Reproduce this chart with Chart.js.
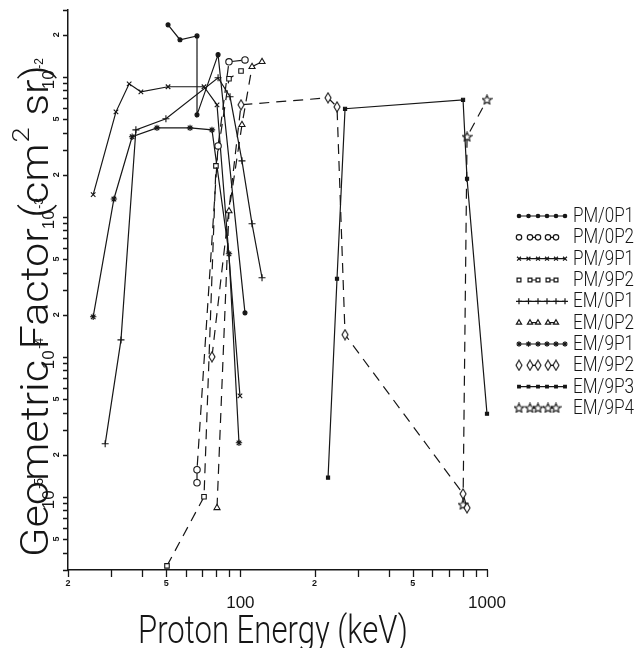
<!DOCTYPE html>
<html><head><meta charset="utf-8">
<script src="https://cdn.jsdelivr.net/npm/chart.js@4.4.1/dist/chart.umd.min.js"></script>
<style>html,body{margin:0;padding:0;background:#fff;overflow:hidden}#wrap{width:636px;height:648px;position:relative}</style>
</head><body><div id="wrap"><canvas id="c" width="636" height="648" style="width:636px;height:648px"></canvas></div>
<script>
// ---------- DATA ----------
const seriesNames = ['PM/0P1','PM/0P2','PM/9P1','PM/9P2','EM/0P1','EM/0P2','EM/9P1','EM/9P2','EM/9P3','EM/9P4'];

const pm0p1E = [50.9, 56.9, 66.7, 66.7, 81.2, 104.4];
const pm0p1G = [0.0235, 0.0184, 0.0196, 0.00535, 0.0144, 2.06e-4];

const pm0p2E = [66.7, 66.7, 81.2, 89.9, 104.4];
const pm0p2G = [1.26e-5, 1.56e-5, 3.21e-3, 0.0128, 0.0132];

const pm9p1E = [25.3, 31.3, 35.4, 39.5, 50.9, 71.2, 80.4, 99.6];
const pm9p1G = [1.44e-3, 5.62e-3, 8.91e-3, 7.81e-3, 8.49e-3, 8.49e-3, 6.31e-3, 5.26e-5];

const pm9p2E = [50.4, 71.2, 79.6, 89.9, 100.6];
const pm9p2G = [3.21e-6, 1.0e-5, 2.31e-3, 9.68e-3, 0.0110];

const em0p1E = [28.3, 32.8, 37.7, 49.9, 81.2, 90.8, 101.5, 111.5, 122.4];
const em0p1G = [2.39e-5, 1.32e-4, 4.18e-3, 5.01e-3, 9.84e-3, 7.2e-3, 2.51e-3, 8.91e-4, 3.67e-4];

const em0p2E = [80.4, 89.9, 101.5, 111.5, 122.4];
const em0p2G = [8.34e-6, 1.10e-3, 4.54e-3, 0.0118, 0.0128];

const em9p1E = [25.3, 30.7, 36.4, 45.9, 62.5, 76.7, 89.9, 98.7];
const em9p1G = [1.93e-4, 1.34e-3, 3.73e-3, 4.32e-3, 4.32e-3, 4.18e-3, 5.44e-4, 2.43e-5];

const em9p2E = [76.7, 100.6, 226.7, 246.5, 265.7, 799.6, 830];
const em9p2G = [1.0e-4, 6.31e-3, 7.08e-3, 6.1e-3, 1.44e-4, 1.05e-5, 8.34e-6];

const em9p3E = [226.7, 246.5, 265.7, 799.6, 830, 1000];
const em9p3G = [1.37e-5, 3.61e-4, 5.91e-3, 6.85e-3, 1.87e-3, 3.92e-5];

const em9p4E = [799.6, 830, 1000];
const em9p4G = [8.77e-6, 3.73e-3, 6.85e-3];

// tick values / labels
const xMinorTicks = [20,30,40,50,60,70,80,90,100,200,300,400,500,600,700,800,900,1000];
const xSmallLabels = [[20,'2'],[50,'5'],[200,'2'],[500,'5']];
const xBigLabels = [[100,'100'],[1000,'1000']];
const yMinorTicks = [3e-6,4e-6,5e-6,6e-6,7e-6,8e-6,9e-6,1e-5,2e-5,3e-5,4e-5,5e-5,6e-5,7e-5,8e-5,9e-5,
  1e-4,2e-4,3e-4,4e-4,5e-4,6e-4,7e-4,8e-4,9e-4,1e-3,2e-3,3e-3,4e-3,5e-3,6e-3,7e-3,8e-3,9e-3,1e-2,2e-2,3e-2];
const ySmallLabels = [[5e-6,'5'],[2e-5,'2'],[5e-5,'5'],[2e-4,'2'],[5e-4,'5'],[2e-3,'2'],[5e-3,'5'],[2e-2,'2']];
const yDecadeLabels = [[1e-5,'-5'],[1e-4,'-4'],[1e-3,'-3'],[1e-2,'-2']];

// ---------- STYLE ----------
const INK = '#161616';
function mkCanvas(w,h,fn){const c=document.createElement('canvas');c.width=w;c.height=h;const g=c.getContext('2d');g.strokeStyle=INK;g.fillStyle=INK;g.lineWidth=1.1;fn(g);return c;}
const diamondImg = mkCanvas(8,12,g=>{g.beginPath();g.moveTo(4,1);g.lineTo(7,6);g.lineTo(4,11);g.lineTo(1,6);g.closePath();g.fillStyle='#fff';g.fill();g.stroke();});
const openStarImg = mkCanvas(11,11,g=>{g.beginPath();for(let i=0;i<10;i++){const r=i%2?2.2:4.8;const a=-Math.PI/2+i*Math.PI/5;const px=5.5+r*Math.cos(a),py=5.8+r*Math.sin(a);i?g.lineTo(px,py):g.moveTo(px,py);}g.closePath();g.fillStyle='#fff';g.fill();g.stroke();});

const styles = [
  {ps:'circle', r:2, fill:true, dash:[]},
  {ps:'circle', r:3.2, fill:false, dash:[10,7]},
  {ps:'crossRot', r:3.2, fill:false, dash:[]},
  {ps:'rect', r:3.2, fill:false, dash:[10,7]},
  {ps:'cross', r:3.5, fill:false, dash:[]},
  {ps:'triangle', r:3.5, fill:false, dash:[10,7]},
  {ps:'star', r:3.2, fill:true, dash:[]},
  {ps:diamondImg, r:4, fill:false, dash:[10,7]},
  {ps:'rect', r:2.2, fill:true, dash:[]},
  {ps:openStarImg, r:4, fill:false, dash:[10,7]},
];
const seriesE = [pm0p1E,pm0p2E,pm9p1E,pm9p2E,em0p1E,em0p2E,em9p1E,em9p2E,em9p3E,em9p4E];
const seriesG = [pm0p1G,pm0p2G,pm9p1G,pm9p2G,em0p1G,em0p2G,em9p1G,em9p2G,em9p3G,em9p4G];

const datasets = seriesNames.map((n,i)=>({
  label:n,
  data: seriesE[i].map((e,j)=>({x:e,y:seriesG[i][j]})),
  borderColor:INK, borderWidth:1.2, borderDash:styles[i].dash,
  pointStyle:styles[i].ps, pointRadius:styles[i].r, pointHoverRadius:styles[i].r,
  pointBorderColor:INK, pointBorderWidth:1.1,
  pointBackgroundColor: styles[i].fill ? INK : '#fff',
  fill:false, tension:0, clip:false, showLine:true
}));

function fitText(ctx, txt, x, y, font, targetW, align){
  ctx.font = font;
  const w = ctx.measureText(txt).width;
  const s = targetW ? targetW / w : 1;
  ctx.save(); ctx.translate(x,y); ctx.scale(s,1);
  ctx.textAlign = align||'left'; ctx.fillText(txt,0,0); ctx.restore();
  return w*s;
}

const TITLE_FONT = '300 38px Roboto, "Liberation Sans"';
const deco = {
  id:'deco',
  afterDraw(chart){
    const ctx=chart.ctx, xs=chart.scales.x, ys=chart.scales.y;
    const L=xs.left, B=ys.bottom;
    ctx.save();
    ctx.strokeStyle=INK; ctx.fillStyle=INK; ctx.lineWidth=1.3; ctx.setLineDash([]);
    // ticks
    ctx.beginPath();
    for(const v of xMinorTicks){const p=Math.round(xs.getPixelForValue(v))+0.5; ctx.moveTo(p,B); ctx.lineTo(p,B+7);}
    for(const v of yMinorTicks){const p=Math.round(ys.getPixelForValue(v))+0.5; ctx.moveTo(L-5,p); ctx.lineTo(L,p);}
    ctx.stroke();
    // x labels
    ctx.textBaseline='middle';
    for(const [v,t] of xSmallLabels){ctx.font='bold 9px "Liberation Sans", Arial'; ctx.textAlign='center'; ctx.fillText(t, xs.getPixelForValue(v), B+14);}
    for(const [v,t] of xBigLabels){ctx.font='17px "Liberation Sans", Arial'; ctx.textAlign='center'; ctx.fillText(t, xs.getPixelForValue(v), B+33);}
    // y labels (rotated)
    for(const [v,t] of ySmallLabels){const p=ys.getPixelForValue(v); ctx.save(); ctx.translate(L-11,p); ctx.rotate(-Math.PI/2); ctx.font='bold 9px "Liberation Sans", Arial'; ctx.textAlign='center'; ctx.fillText(t,0,0); ctx.restore();}
    for(const [v,t] of yDecadeLabels){const p=ys.getPixelForValue(v); ctx.save(); ctx.translate(L-19,p); ctx.rotate(-Math.PI/2);
      ctx.font='17px "Liberation Sans", Arial'; ctx.textAlign='center'; ctx.fillText('10',-3,0);
      ctx.font='12px "Liberation Sans", Arial'; ctx.textAlign='left'; ctx.fillText(t,8,-9); ctx.restore();}
    // x title
    ctx.textBaseline='alphabetic'; ctx.textAlign='left';
    fitText(ctx,'Proton Energy (keV)',138,643,TITLE_FONT,270,'left');
    // y title (rotated, reads bottom to top)
    ctx.save(); ctx.translate(48,557); ctx.rotate(-Math.PI/2);
    ctx.textAlign='left'; ctx.textBaseline='alphabetic';
    const t1='Geometric Factor (cm', t3=' sr)';
    ctx.font=TITLE_FONT; const a1=ctx.measureText(t1).width, a3=ctx.measureText(t3).width;
    ctx.font='300 24px Roboto, "Liberation Sans"'; const a2=ctx.measureText('2').width;
    const sx = 492/(a1+a2+a3+2);
    ctx.save(); ctx.scale(sx,1); ctx.font=TITLE_FONT; ctx.fillText(t1,0,0); ctx.restore();
    ctx.save(); ctx.translate(a1*sx+1,-19); ctx.scale(sx,1); ctx.font='300 24px Roboto, "Liberation Sans"'; ctx.fillText('2',0,0); ctx.restore();
    ctx.save(); ctx.translate((a1+a2)*sx+2,0); ctx.scale(sx,1); ctx.font=TITLE_FONT; ctx.fillText(t3,0,0); ctx.restore();
    ctx.restore();
    // legend
    const lx0=518, lx1=565;
    chart.data.datasets.forEach((ds,i)=>{
      const y = 216 + i*21.33;
      const st = styles[i];
      ctx.strokeStyle=INK; ctx.fillStyle=INK; ctx.lineWidth=1.2;
      const opts={pointStyle:st.ps, radius:st.r*0.85, rotation:0, borderWidth:1};
      let marks;
      ctx.beginPath();
      if(st.dash.length){
        marks=[519,530,538,548,556];
        ctx.moveTo(530,y); ctx.lineTo(538,y); ctx.moveTo(548,y); ctx.lineTo(556,y);
      } else {
        marks=[519,528.5,538,547,556,565];
        ctx.moveTo(lx0,y); ctx.lineTo(lx1,y);
      }
      ctx.stroke();
      for(const m of marks){ctx.fillStyle= st.fill?INK:'#fff'; Chart.helpers.drawPoint(ctx,opts,m,y);}
      ctx.fillStyle=INK; ctx.textBaseline='middle';
      fitText(ctx, ds.label, 573, y+1, '300 20px Roboto, "Liberation Sans"', 61, 'left');
    });
    ctx.restore();
  }
};

new Chart(document.getElementById('c'), {
  type:'line',
  data:{datasets},
  options:{
    responsive:false, animation:false, devicePixelRatio:1,
    layout:{padding:{left:68,top:10,right:149,bottom:78}},
    plugins:{legend:{display:false},tooltip:{enabled:false}},
    scales:{
      x:{type:'logarithmic',min:20,max:1000,ticks:{display:false},grid:{display:false,drawTicks:false},border:{display:true,color:INK,width:1.5}},
      y:{type:'logarithmic',min:3e-6,max:3e-2,ticks:{display:false},grid:{display:false,drawTicks:false},border:{display:true,color:INK,width:1.5}}
    }
  },
  plugins:[deco]
});
</script></body></html>
